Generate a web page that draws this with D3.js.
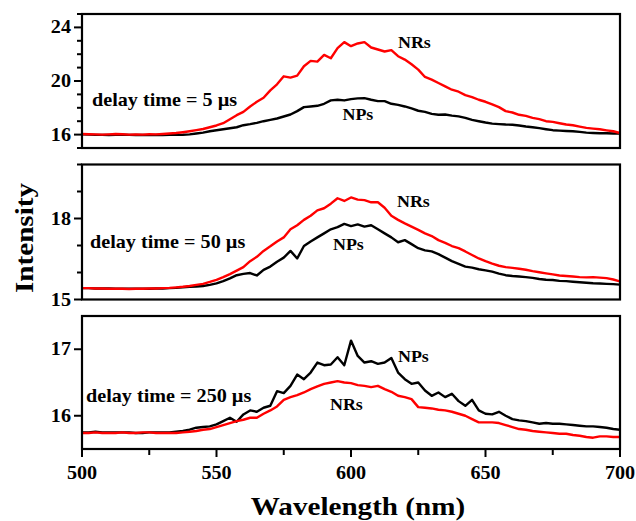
<!DOCTYPE html>
<html>
<head>
<meta charset="utf-8">
<script src="https://cdn.jsdelivr.net/npm/d3@7"></script>
<style>
  body { margin: 0; background: #fff; }
  svg { display: block; }
  text { font-family: "Liberation Serif", "Times New Roman", serif; font-weight: bold; fill: #000; }
</style>
</head>
<body>
<svg id="chart" width="636" height="521"></svg>
<script>
// wavelength grid (nm)
const wavelength = [500,502.5,505,507.5,510,512.5,515,517.5,520,522.5,525,527.5,530,532.5,535,537.5,540,542.5,545,547.5,
  550,552.5,555,557.5,560,562.5,565,567.5,570,572.5,575,577.5,580,582.5,585,587.5,590,592.5,595,597.5,
  600,602.5,605,607.5,610,612.5,615,617.5,620,622.5,625,627.5,630,632.5,635,637.5,640,642.5,645,647.5,
  650,652.5,655,657.5,660,662.5,665,667.5,670,672.5,675,677.5,680,682.5,685,687.5,690,692.5,695,697.5,700];

// delay time = 5 us
const nrs5 = [16.05,16.03,16.02,16.0,16.02,16.05,16.03,16.0,16.02,16.0,16.03,16.02,16.05,16.08,16.12,16.18,16.25,16.33,16.42,16.55,
  16.68,16.85,17.15,17.45,17.7,18.1,18.45,18.75,19.3,19.75,20.35,20.25,20.4,21.1,21.5,21.45,21.95,21.7,22.45,22.9,
  22.6,22.8,22.9,22.5,22.35,22.2,22.3,21.85,21.6,21.25,20.85,20.3,20.1,19.85,19.6,19.35,19.2,18.95,18.8,18.6,
  18.45,18.25,18.05,17.75,17.65,17.48,17.4,17.25,17.15,17.0,16.95,16.85,16.75,16.7,16.6,16.5,16.45,16.4,16.32,16.25,16.12];
const nps5 = [16.02,16.0,15.98,15.98,15.97,15.98,16.0,15.98,15.97,15.97,15.96,15.97,15.97,15.98,15.98,15.99,16.02,16.08,16.15,16.25,
  16.32,16.4,16.47,16.55,16.7,16.78,16.88,17.0,17.1,17.2,17.35,17.5,17.75,18.05,18.1,18.15,18.3,18.55,18.6,18.55,
  18.65,18.7,18.72,18.6,18.5,18.5,18.3,18.22,18.1,17.95,17.78,17.7,17.55,17.48,17.5,17.42,17.36,17.25,17.1,17.0,
  16.9,16.82,16.78,16.75,16.74,16.68,16.6,16.55,16.48,16.4,16.33,16.3,16.27,16.25,16.2,16.15,16.12,16.1,16.1,16.08,16.07];

// delay time = 50 us
const nrs50 = [15.42,15.42,15.41,15.41,15.4,15.4,15.4,15.39,15.4,15.4,15.41,15.41,15.42,15.43,15.45,15.47,15.5,15.54,15.58,15.65,
  15.73,15.83,15.94,16.07,16.2,16.42,16.58,16.8,16.97,17.15,17.3,17.6,17.75,17.95,18.1,18.3,18.38,18.55,18.75,18.65,
  18.78,18.7,18.68,18.6,18.6,18.4,18.1,17.95,17.82,17.7,17.58,17.45,17.35,17.2,17.1,16.98,16.9,16.78,16.65,16.52,
  16.42,16.33,16.25,16.2,16.17,16.14,16.1,16.05,16.01,15.97,15.93,15.89,15.87,15.85,15.83,15.82,15.83,15.81,15.79,15.74,15.67];
const nps50 = [15.42,15.42,15.41,15.41,15.41,15.4,15.4,15.4,15.4,15.4,15.4,15.41,15.41,15.42,15.43,15.45,15.47,15.48,15.5,15.54,
  15.6,15.68,15.78,15.9,15.95,15.98,15.89,16.1,16.22,16.4,16.55,16.8,16.52,16.98,17.15,17.3,17.45,17.6,17.68,17.8,
  17.72,17.78,17.7,17.75,17.6,17.45,17.3,17.12,17.2,17.05,16.9,16.82,16.78,16.68,16.55,16.42,16.32,16.22,16.18,16.12,
  16.08,16.03,15.96,15.9,15.87,15.85,15.83,15.8,15.76,15.73,15.72,15.69,15.68,15.66,15.64,15.62,15.6,15.59,15.58,15.57,15.55];

// delay time = 250 us
const nps250 = [15.75,15.75,15.76,15.75,15.75,15.75,15.75,15.75,15.74,15.74,15.75,15.75,15.75,15.75,15.76,15.77,15.79,15.82,15.83,15.84,
  15.87,15.92,15.97,15.91,16.02,16.08,16.06,16.12,16.15,16.37,16.34,16.45,16.62,16.55,16.65,16.8,16.76,16.77,16.88,16.76,
  17.13,16.9,16.8,16.82,16.78,16.8,16.87,16.65,16.55,16.48,16.5,16.38,16.3,16.35,16.28,16.33,16.22,16.15,16.24,16.08,
  16.03,16.02,16.06,16.0,15.95,15.93,15.92,15.9,15.88,15.89,15.88,15.88,15.87,15.86,15.85,15.84,15.84,15.83,15.82,15.8,15.79];
const nrs250 = [15.74,15.74,15.75,15.74,15.74,15.74,15.75,15.74,15.74,15.75,15.75,15.74,15.74,15.74,15.74,15.75,15.76,15.77,15.79,15.8,
  15.83,15.86,15.89,15.92,15.94,15.97,15.97,16.03,16.08,16.14,16.24,16.28,16.31,16.35,16.4,16.44,16.48,16.5,16.52,16.5,
  16.49,16.46,16.45,16.43,16.45,16.4,16.36,16.3,16.28,16.25,16.13,16.12,16.11,16.09,16.08,16.06,16.03,16.0,15.95,15.9,
  15.9,15.9,15.89,15.86,15.83,15.8,15.79,15.77,15.76,15.75,15.74,15.73,15.73,15.71,15.7,15.68,15.67,15.69,15.69,15.68,15.68];

const xTicksMajor = [500, 550, 600, 650, 700];
const xTicksMinor = [525, 575, 625, 675];

const panels = [
  { domain: [15, 25], major: [16, 20, 24], minor: [15,17,18,19,21,22,23,25], top: 14, bottom: 148,
    label: "delay time = 5 \u00b5s", red: nrs5, black: nps5,
    notes: [["NRs", 398, 47.5], ["NPs", 342.5, 120]], lab: [92, 106] },
  { domain: [15, 20], major: [15, 18], minor: [16, 17, 19, 20], top: 164.5, bottom: 299.5,
    label: "delay time = 50 \u00b5s", red: nrs50, black: nps50,
    notes: [["NRs", 397, 207], ["NPs", 333, 250]], lab: [90, 248] },
  { domain: [15.5, 17.5], major: [16, 17], minor: [], top: 316, bottom: 449,
    label: "delay time = 250 \u00b5s", red: nrs250, black: nps250,
    notes: [["NPs", 398, 362], ["NRs", 330, 410]], lab: [86, 402] }
];

const svg = d3.select('#chart');
const left = 82, right = 620;
const stretch = 1.12;

const xScale = d3.scaleLinear().domain([500, 700]).range([left, right]);

function label(x, y, txt, size, anchor, rot) {
  svg.append('text')
    .attr('transform', `translate(${x},${y}) rotate(${rot || 0}) scale(${stretch},1)`)
    .style('font-size', size + 'px')
    .style('text-anchor', anchor || 'start')
    .text(txt);
}

panels.forEach((p, i) => {
  const yScale = d3.scaleLinear().domain(p.domain).range([p.bottom, p.top]);

  const line = d3.line()
    .x((d, j) => xScale(wavelength[j]))
    .y(d => yScale(d));

  const clipId = 'clip' + i;
  svg.append('clipPath').attr('id', clipId)
    .append('rect')
    .attr('x', left).attr('y', p.top)
    .attr('width', right - left).attr('height', p.bottom - p.top);

  const g = svg.append('g').attr('clip-path', `url(#${clipId})`);
  g.append('path').datum(p.black)
    .attr('d', line)
    .style('fill', 'none').style('stroke', '#000').style('stroke-width', 2.4)
    .style('stroke-linejoin', 'round');
  g.append('path').datum(p.red)
    .attr('d', line)
    .style('fill', 'none').style('stroke', '#ff0000').style('stroke-width', 2.4)
    .style('stroke-linejoin', 'round');

  // y ticks
  svg.append('g').selectAll('line.maj').data(p.major).enter().append('line')
    .attr('x1', left - 8).attr('x2', left)
    .attr('y1', d => yScale(d)).attr('y2', d => yScale(d))
    .style('stroke', '#000').style('stroke-width', 2);
  svg.append('g').selectAll('line.min').data(p.minor).enter().append('line')
    .attr('x1', left - 5).attr('x2', left)
    .attr('y1', d => yScale(d)).attr('y2', d => yScale(d))
    .style('stroke', '#000').style('stroke-width', 2);
  p.major.forEach(v => label(71, yScale(v) + 6, String(v), 18, 'end'));

  // frame
  svg.append('rect')
    .attr('x', left).attr('y', p.top)
    .attr('width', right - left).attr('height', p.bottom - p.top)
    .style('fill', 'none').style('stroke', '#000').style('stroke-width', 2.2);

  label(p.lab[0], p.lab[1], p.label, 18, 'start');
  p.notes.forEach(n => label(n[1], n[2], n[0], 16, 'start'));

  if (i === panels.length - 1) {
    svg.append('g').selectAll('line').data(xTicksMajor).enter().append('line')
      .attr('x1', d => xScale(d)).attr('x2', d => xScale(d))
      .attr('y1', p.bottom).attr('y2', p.bottom + 8)
      .style('stroke', '#000').style('stroke-width', 2);
    svg.append('g').selectAll('line').data(xTicksMinor).enter().append('line')
      .attr('x1', d => xScale(d)).attr('x2', d => xScale(d))
      .attr('y1', p.bottom).attr('y2', p.bottom + 6)
      .style('stroke', '#000').style('stroke-width', 2);
    xTicksMajor.forEach(v => label(xScale(v), 479, String(v), 18, 'middle'));
  }
});

label(358, 515, 'Wavelength (nm)', 26, 'middle');
label(33, 238, 'Intensity', 26, 'middle', -90);
</script>
</body>
</html>
